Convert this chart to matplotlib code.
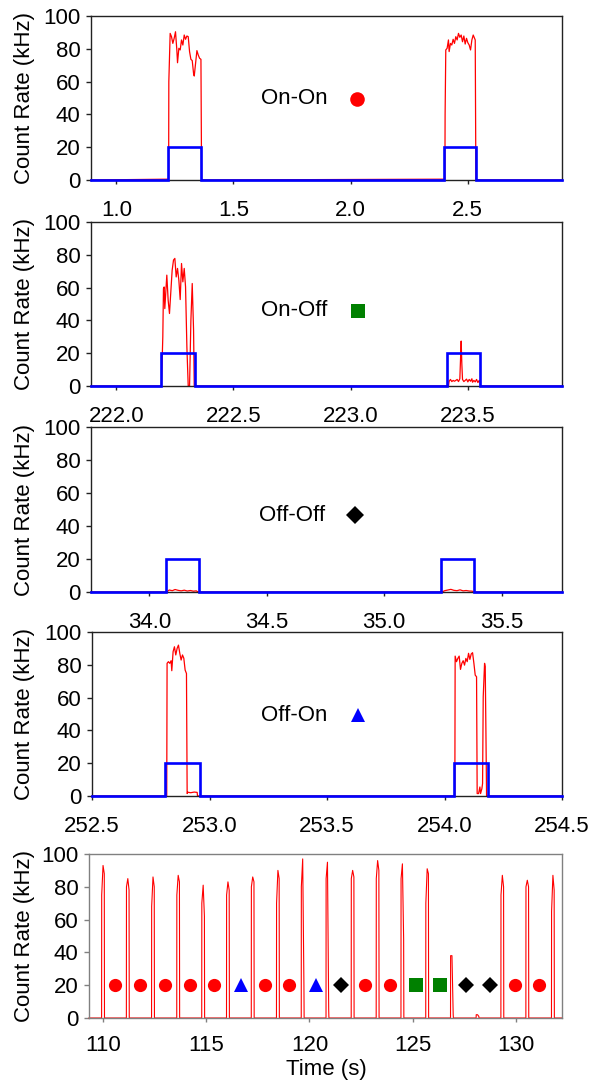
import matplotlib
matplotlib.use("Agg")
import matplotlib.pyplot as plt
import numpy as np

plt.rcParams['font.family'] = ['Liberation Sans', 'DejaVu Sans']

# ---------------- data ----------------
# Panel 1: On-On
p1_xlim = (0.892, 2.903)
p1_xticks = [1.0, 1.5, 2.0, 2.5]
p1_gate_start = [1.222, 2.400]
p1_gate_end = [1.360, 2.534]
p1_red_t = [0.892, 1.2235, 1.2243, 1.2300, 1.2357, 1.2414, 1.2471, 1.2528, 1.2585, 1.2614,
            1.2671, 1.2728, 1.2785, 1.2842, 1.2900, 1.2957, 1.3014, 1.3071, 1.3128,
            1.3185, 1.3242, 1.3299, 1.3328, 1.3385, 1.3442, 1.3499, 1.3557, 1.3614,
            1.3642, 2.4030, 2.4039, 2.4068, 2.4125, 2.4182, 2.4211, 2.4268, 2.4325,
            2.4382, 2.4439, 2.4496, 2.4553, 2.4610, 2.4668, 2.4725, 2.4782, 2.4839,
            2.4896, 2.4953, 2.5010, 2.5067, 2.5125, 2.5182, 2.5239, 2.5296, 2.5325,
            2.5353, 2.903]
p1_red_v = [0.0, 0.5, 60.0, 89.4, 87.4, 83.3, 86.4, 90.4, 79.3, 71.5,
            80.3, 79.3, 85.4, 82.3, 88.4, 85.8, 87.8, 87.4, 78.3,
            73.6, 72.8, 65.0, 63.4, 71.1, 78.9, 76.2, 74.2, 73.6,
            0.0, 0.5, 40.0, 79.3, 80.3, 85.4, 78.3, 83.3, 82.3,
            85.8, 83.3, 87.4, 85.4, 89.4, 87.0, 88.4, 84.3, 87.8,
            82.9, 86.4, 83.7, 82.3, 79.3, 85.4, 88.4, 86.4, 85.4,
            0.0, 0.0]
p1_label = "On-On"
p1_label_pos = (1.619, 49.4)
p1_marker_pos = (2.026, 49.4)

# Panel 2: On-Off
p2_xlim = (221.892, 223.903)
p2_xticks = [222.0, 222.5, 223.0, 223.5]
p2_gate_start = [222.190, 223.413]
p2_gate_end = [222.336, 223.554]
p2_red_t = [221.892, 222.1928, 222.1986, 222.2014, 222.2043, 222.2071, 222.2157, 222.2214,
            222.2271, 222.2328, 222.2385, 222.2443, 222.2500, 222.2557, 222.2614,
            222.2671, 222.2728, 222.2785, 222.2842, 222.2900, 222.2957, 222.3014,
            222.3071, 222.3128, 222.3185, 222.3242, 222.3299, 222.3328,
            223.4182, 223.4211, 223.4268, 223.4325, 223.4382, 223.4439, 223.4496,
            223.4553, 223.4610, 223.4668, 223.4696, 223.4725, 223.4753, 223.4782,
            223.4839, 223.4896, 223.4953, 223.5010, 223.5067, 223.5125, 223.5182,
            223.5210, 223.5268, 223.5325, 223.5382, 223.5439, 223.5496, 223.5530,
            223.5545, 223.903]
p2_red_v = [0.0, 0.0, 30.0, 59.4, 60.4, 47.2, 67.6, 52.3,
            44.2, 57.4, 70.6, 76.8, 77.8, 66.5, 71.7,
            64.5, 52.7, 74.7, 63.5, 71.7, 60.4, 23.7,
            0.0, 0.0, 40.0, 62.5, 34.0, 0.0,
            0.0, 2.9, 4.0, 2.7, 3.4, 2.9, 3.4,
            4.0, 2.7, 4.4, 15.6, 27.4, 13.6, 4.0,
            2.7, 3.4, 4.2, 2.5, 4.0, 2.9, 4.4,
            2.3, 3.4, 2.5, 4.0, 2.1, 3.4, 2.9,
            0.0, 0.0]
p2_label = "On-Off"
p2_label_pos = (222.619, 46.0)
p2_marker_pos = (223.030, 46.0)

# Panel 3: Off-Off
p3_xlim = (33.752, 35.757)
p3_xticks = [34.0, 34.5, 35.0, 35.5]
p3_gate_start = [34.072, 35.243]
p3_gate_end = [34.210, 35.383]
p3_red_t = [33.752, 34.074, 34.085, 34.098, 34.110, 34.123, 34.136, 34.149, 34.162,
            34.175, 34.188, 34.200, 34.208, 35.245, 35.258, 35.271, 35.284, 35.297,
            35.310, 35.323, 35.336, 35.349, 35.362, 35.375, 35.381, 35.757]
p3_red_v = [0.0, 0.0, 1.2, 0.8, 1.5, 1.0, 0.7, 1.1, 0.6,
            0.9, 0.5, 0.7, 0.0, 0.0, 0.8, 1.2, 1.6, 1.0,
            0.8, 1.3, 0.7, 0.9, 0.6, 0.5, 0.0, 0.0]
p3_label = "Off-Off"
p3_label_pos = (34.467, 46.5)
p3_marker_pos = (34.874, 46.5)

# Panel 4: Off-On
p4_xlim = (252.5, 254.5)
p4_xticks = [252.5, 253.0, 253.5, 254.0, 254.5]
p4_gate_start = [252.811, 254.040]
p4_gate_end = [252.958, 254.185]
p4_red_t = [252.5, 252.8180, 252.8195, 252.8252, 252.8309, 252.8366, 252.8395, 252.8451,
            252.8508, 252.8565, 252.8622, 252.8679, 252.8736, 252.8793, 252.8850,
            252.8907, 252.8963, 252.9020, 252.9049, 252.9077, 252.9200, 252.9350,
            252.9475, 252.9490,
            254.0440, 254.0453, 254.0511, 254.0567, 254.0624, 254.0681, 254.0738,
            254.0795, 254.0852, 254.0909, 254.0966, 254.1023, 254.1080, 254.1137,
            254.1194, 254.1251, 254.1307, 254.1364, 254.1390, 254.1450, 254.1506,
            254.1535, 254.1591, 254.1620, 254.1648, 254.1705, 254.1733, 254.1762,
            254.1790, 254.5]
p4_red_v = [0.0, 0.0, 80.9, 81.9, 80.9, 82.5, 76.4, 88.0,
            91.0, 86.0, 90.0, 92.0, 87.0, 82.9, 86.0,
            84.0, 76.8, 74.7, 1.5, 2.3, 2.0, 2.4,
            2.2, 0.0,
            0.0, 85.3, 81.9, 83.9, 85.3, 77.2, 80.9,
            82.5, 79.8, 83.9, 81.9, 87.0, 83.3, 86.6,
            87.4, 80.9, 73.7, 72.7, 1.5, 1.5, 5.5,
            1.5, 4.5, 7.6, 60.5, 80.9, 78.8, 40.0,
            0.0, 0.0]
p4_label = "Off-On"
p4_label_pos = (253.22, 49.3)
p4_marker_pos = (253.63, 49.3)

# Panel 5: long trace
p5_xlim = (109.32, 132.23)
p5_xticks = [110, 115, 120, 125, 130]
p5_pulse_t = [109.93, 111.13, 112.35, 113.57, 114.78, 115.98, 117.18, 118.40, 119.60,
              120.80, 122.02, 123.23, 124.43, 125.63, 126.83, 128.07, 129.27, 130.48,
              131.72]
p5_pulse_rise = [75, 80, 68, 75, 70, 75, 80, 70, 80, 85, 85, 85, 85, 70, 38, 2, 75, 80, 65]
p5_pulse_peak = [93, 85, 86, 87, 81, 83, 86, 90, 97, 95, 90, 96, 94, 91, 38, 2, 87, 84, 87]
p5_pulse_end = [88, 78, 80, 83, 62, 78, 83, 85, 20, 5, 86, 90, 48, 88, 2, 1, 80, 80, 78]
p5_marker_t = [110.58, 111.79, 112.99, 114.19, 115.39, 116.67, 117.85, 119.03, 120.31,
               121.51, 122.68, 123.88, 125.14, 126.32, 127.58, 128.76, 129.95, 131.13]
p5_marker_kind = ['On-On', 'On-On', 'On-On', 'On-On', 'On-On', 'Off-On', 'On-On', 'On-On',
                  'Off-On', 'Off-Off', 'On-On', 'On-On', 'On-Off', 'On-Off', 'Off-Off',
                  'Off-Off', 'On-On', 'On-On']
p5_marker_level = 20

gate_level = 20
yticks = [0, 20, 40, 60, 80, 100]

styles = {
    'On-On': dict(marker='o', color='#ff0000'),
    'On-Off': dict(marker='s', color='#008000'),
    'Off-Off': dict(marker='D', color='#000000'),
    'Off-On': dict(marker='^', color='#0000ff'),
}

# ---------------- figure ----------------
W, H = 589, 1081
fig = plt.figure(figsize=(W / 100, H / 100), dpi=100)

def ax_rect(left, top, right, bottom):
    return [left / W, 1 - bottom / H, (right - left) / W, (bottom - top) / H]

rects = [
    ax_rect(91, 16, 562, 180),
    ax_rect(91, 222, 562, 386),
    ax_rect(91, 427, 562, 592),
    ax_rect(92, 632, 562, 796),
    ax_rect(89, 854, 562, 1018),
]

FS = 16

def gate_path(starts, ends, xlim):
    xs = [xlim[0]]
    ys = [0]
    for s, e in zip(starts, ends):
        xs += [s, s, e, e]
        ys += [0, gate_level, gate_level, 0]
    xs.append(xlim[1])
    ys.append(0)
    return xs, ys

def style_axes(ax, xlim, xticks, fmt, spine_color, xpad=12.0):
    ax.set_xlim(*xlim)
    ax.set_ylim(0, 100)
    ax.set_yticks(yticks)
    ax.set_xticks(xticks)
    ax.set_xticklabels([fmt.format(v) for v in xticks])
    for s in ax.spines.values():
        s.set_color(spine_color)
        s.set_linewidth(1.0)
    ax.tick_params(axis='x', direction='out', length=2.6, width=1.0, pad=xpad,
                   labelsize=FS, colors=spine_color, labelcolor='black')
    ax.tick_params(axis='y', direction='out', length=3.6, width=1.0, pad=4.0,
                   labelsize=FS, colors=spine_color, labelcolor='black')

panels = [
    (p1_xlim, p1_xticks, p1_gate_start, p1_gate_end, p1_red_t, p1_red_v, p1_label, p1_label_pos, p1_marker_pos),
    (p2_xlim, p2_xticks, p2_gate_start, p2_gate_end, p2_red_t, p2_red_v, p2_label, p2_label_pos, p2_marker_pos),
    (p3_xlim, p3_xticks, p3_gate_start, p3_gate_end, p3_red_t, p3_red_v, p3_label, p3_label_pos, p3_marker_pos),
    (p4_xlim, p4_xticks, p4_gate_start, p4_gate_end, p4_red_t, p4_red_v, p4_label, p4_label_pos, p4_marker_pos),
]

for i, (xlim, xt, gs, ge, rt, rv, lab, lpos, mpos) in enumerate(panels):
    ax = fig.add_axes(rects[i])
    style_axes(ax, xlim, xt, "{:.1f}", '#222222')
    ax.plot(rt, rv, color='#ff0000', lw=0.9, zorder=2, clip_on=False)
    gx, gy = gate_path(gs, ge, xlim)
    ax.plot(gx, gy, color='#0000ff', lw=1.9, zorder=3, clip_on=False,
            solid_joinstyle='miter')
    ax.text(lpos[0], lpos[1], lab, fontsize=FS, ha='left', va='center')
    st = styles[lab]
    ax.plot([mpos[0]], [mpos[1]], linestyle='none', marker=st['marker'],
            color=st['color'], markersize=10.5 if st['marker'] != 'D' else 9.0,
            markeredgewidth=0)

# bottom panel
ax5 = fig.add_axes(rects[4])
style_axes(ax5, p5_xlim, p5_xticks, "{:d}", '#808080', xpad=9.5)
bx = [p5_xlim[0]]
by = [0]
for t, r, p, e in zip(p5_pulse_t, p5_pulse_rise, p5_pulse_peak, p5_pulse_end):
    bx += [t, t + 0.005, t + 0.07, t + 0.13, t + 0.14]
    by += [0, r, p, e, 0]
bx.append(p5_xlim[1])
by.append(0)
ax5.plot(bx, by, color='#ff0000', lw=0.8, zorder=2, clip_on=False)
for kind in styles:
    xs = [t for t, k in zip(p5_marker_t, p5_marker_kind) if k == kind]
    if not xs:
        continue
    st = styles[kind]
    ax5.plot(xs, [p5_marker_level] * len(xs), linestyle='none', marker=st['marker'],
             color=st['color'], markersize=9.5 if st['marker'] != 'D' else 8.5,
             markeredgewidth=0, zorder=4)

# y labels and x label
for r in rects:
    yc = r[1] + r[3] / 2
    fig.text(25 / W, yc, "Count Rate (kHz)", rotation=90, ha='center', va='center',
             fontsize=FS)
fig.text(326 / W, 1 - 1069 / H, "Time (s)", ha='center', va='center', fontsize=FS)

fig.savefig("out.png", dpi=100)
